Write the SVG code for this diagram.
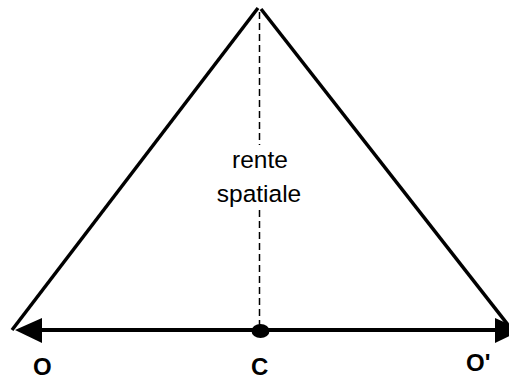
<svg xmlns="http://www.w3.org/2000/svg" width="509" height="379" viewBox="0 0 509 379">
<style>
.side{stroke:#000;stroke-width:3.5;fill:none}
.axis{stroke:#000;stroke-width:4;fill:none}
.dash{stroke:#000;stroke-width:1.5;stroke-dasharray:7,4;fill:none}
.lbl{font-family:"Liberation Sans",Arial,sans-serif;font-size:24px;font-weight:bold;fill:#000}
.txt{font-family:"Liberation Sans",Arial,sans-serif;font-size:24.5px;fill:#000;text-anchor:middle}
</style>
<rect width="509" height="379" fill="#fff"/>
<g id="connectors">
<line class="side" x1="258" y1="8" x2="12" y2="330"/>
<line class="side" x1="261" y1="9" x2="512" y2="330"/>
<line class="dash" x1="259.5" y1="12" x2="259.5" y2="326"/>
<line class="axis" x1="38" y1="330" x2="500" y2="330"/>
<polygon points="15,330 42,318 42,343" fill="#000"/>
<polygon points="522,330 495,318 495,343" fill="#000"/>
</g>
<g id="C-point"><ellipse cx="260.5" cy="331" rx="9" ry="7" fill="#000"/></g>
<g id="label-rente"><rect x="211" y="145" width="96" height="64" fill="#fff"/><text class="txt" x="260" y="168">rente</text><text class="txt" x="259" y="202">spatiale</text></g>
<g id="O"><text class="lbl" x="33" y="375">O</text></g>
<g id="C"><text class="lbl" x="251" y="375">C</text></g>
<g id="Oprime"><text class="lbl" x="466" y="371">O'</text></g>
</svg>
